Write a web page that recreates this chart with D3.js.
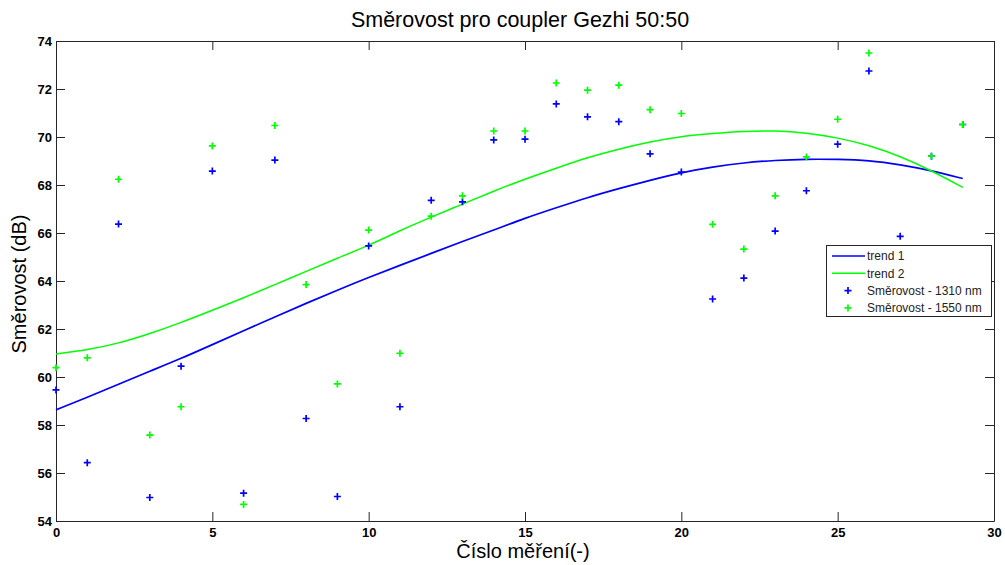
<!DOCTYPE html>
<meta charset="utf-8">
<script src="https://d3js.org/d3.v7.min.js"></script>
<style>
  body { margin: 0; background: #fff; }
  text { font-family: "Liberation Sans", Arial, sans-serif; }
</style>
<div id="chart"></div>
<script>

// measurement number (x)
const mereni = [0,1,2,3,4,5,6,7,8,9,10,11,12,13,14,15,16,17,18,19,20,21,22,23,24,25,26,27,28,29];

// Směrovost - 1310 nm
const smer1310 = [59.46,56.43,66.37,54.98,60.45,68.58,55.16,69.04,58.27,55.02,
                  65.46,58.76,67.36,67.30,69.88,69.91,71.38,70.84,70.64,69.30,
                  68.54,63.25,64.12,66.08,67.76,69.70,72.75,65.86,69.20,70.52];

// Směrovost - 1550 nm (no point visible for 27)
const smer1550 = [60.39,60.80,68.24,57.58,58.76,69.63,54.69,70.48,63.85,59.71,
                  66.12,60.99,66.70,67.55,70.25,70.25,72.25,71.95,72.16,71.14,
                  70.98,66.36,65.33,67.55,69.17,70.74,73.50,null,69.20,70.52];

const trend1 = [58.63,59.15,59.70,60.24,60.77,61.35,61.93,62.50,63.07,63.62,
                64.15,64.65,65.15,65.65,66.12,66.62,67.05,67.48,67.85,68.20,
                68.52,68.75,68.93,69.03,69.08,69.07,69.03,68.85,68.60,68.27];
const trend2 = [60.96,61.13,61.40,61.80,62.27,62.78,63.30,63.85,64.40,64.95,
                65.48,66.10,66.67,67.20,67.75,68.25,68.70,69.15,69.50,69.80,
                70.03,70.15,70.24,70.27,70.18,69.97,69.66,69.20,68.60,67.90];

const xTicks = [0,5,10,15,20,25,30];
const yTicks = [54,56,58,60,62,64,66,68,70,72,74];

const legendItems = [
  {name: "trend 1", type: "line", color: "#0000ff"},
  {name: "trend 2", type: "line", color: "#00ff00"},
  {name: "Směrovost - 1310 nm", type: "mark", color: "#0000ff"},
  {name: "Směrovost - 1550 nm", type: "mark", color: "#00ff00"}
];

const W = 1005, H = 565;
const plotL = 56, plotR = 994, plotT = 41, plotB = 521;

const svg = d3.select("#chart").append("svg")
  .attr("width", W).attr("height", H);

const x = d3.scaleLinear().domain([0, 30]).range([plotL, plotR]);
const y = d3.scaleLinear().domain([54, 74]).range([plotB, plotT]);

// plot background
svg.append("rect")
  .attr("x", plotL).attr("y", plotT)
  .attr("width", plotR - plotL).attr("height", plotB - plotT)
  .attr("fill", "#fff");

// axes, ticks pointing inward on all sides
const tickLen = 9;
const axColor = "#262626";

function styleAxis(g) {
  g.selectAll(".domain").attr("stroke", axColor);
  g.selectAll(".tick line").attr("stroke", axColor);
  g.selectAll(".tick text")
    .attr("fill", "#000")
    .style("font-size", "13px")
    .style("font-weight", "bold");
}

svg.append("g")
  .attr("transform", `translate(0,${plotB})`)
  .call(d3.axisBottom(x).tickValues(xTicks).tickSizeInner(-tickLen).tickSizeOuter(0).tickPadding(7))
  .call(styleAxis);

svg.append("g")
  .attr("transform", `translate(0,${plotT})`)
  .call(d3.axisTop(x).tickValues(xTicks).tickSizeInner(-tickLen).tickSizeOuter(0).tickFormat(""))
  .call(styleAxis);

svg.append("g")
  .attr("transform", `translate(${plotL},0)`)
  .call(d3.axisLeft(y).tickValues(yTicks).tickSizeInner(-tickLen).tickSizeOuter(0).tickPadding(4))
  .call(styleAxis);

svg.append("g")
  .attr("transform", `translate(${plotR},0)`)
  .call(d3.axisRight(y).tickValues(yTicks).tickSizeInner(-tickLen).tickSizeOuter(0).tickFormat(""))
  .call(styleAxis);

// trend lines (smooth fit curves)
const line = d3.line()
  .x((d, i) => x(mereni[i]))
  .y(d => y(d))
  .curve(d3.curveBasis);

svg.append("path")
  .datum(trend1)
  .attr("d", line)
  .attr("fill", "none")
  .attr("stroke", "#0000ff")
  .attr("stroke-width", 1.7);

svg.append("path")
  .datum(trend2)
  .attr("d", line)
  .attr("fill", "none")
  .attr("stroke", "#00ff00")
  .attr("stroke-width", 1.5);

// + markers
const plus = "M-3.5,0H3.5M0,-3.5V3.5";

function drawMarks(values, color) {
  const pts = mereni.map((m, i) => ({m: m, v: values[i]})).filter(d => d.v != null);
  svg.append("g")
    .selectAll("path")
    .data(pts)
    .join("path")
      .attr("transform", d => `translate(${x(d.m)},${y(d.v)})`)
      .attr("d", plus)
      .attr("stroke", color)
      .attr("stroke-width", 1.7)
      .attr("fill", "none");
}
drawMarks(smer1310, "#0000ff");
drawMarks(smer1550, "#00ff00");

// title and axis labels
svg.append("text")
  .attr("x", 520).attr("y", 27)
  .attr("text-anchor", "middle")
  .style("font-size", "21.5px")
  .text("Směrovost pro coupler Gezhi 50:50");

svg.append("text")
  .attr("x", 523).attr("y", 558)
  .attr("text-anchor", "middle")
  .style("font-size", "20px")
  .text("Číslo měření(-)");

svg.append("text")
  .attr("transform", "translate(26,284) rotate(-90)")
  .attr("text-anchor", "middle")
  .style("font-size", "20px")
  .text("Směrovost (dB)");

// legend
const lg = svg.append("g").attr("transform", "translate(826,245)");
lg.append("rect")
  .attr("x", 0.5).attr("y", 0.5)
  .attr("width", 165).attr("height", 71)
  .attr("fill", "#fff")
  .attr("stroke", axColor);

const rows = lg.selectAll("g.row")
  .data(legendItems)
  .join("g")
    .attr("class", "row")
    .attr("transform", (d, i) => `translate(0,${11 + i * 17.3})`);

rows.filter(d => d.type === "line")
  .append("line")
    .attr("x1", 6).attr("x2", 39)
    .attr("y1", 0).attr("y2", 0)
    .attr("stroke", d => d.color)
    .attr("stroke-width", 1.6);

rows.filter(d => d.type === "mark")
  .append("path")
    .attr("transform", "translate(22,0)")
    .attr("d", plus)
    .attr("stroke", d => d.color)
    .attr("stroke-width", 1.7);

rows.append("text")
  .attr("x", 41)
  .attr("y", 0)
  .attr("dy", "0.35em")
  .style("font-size", "12px")
  .attr("fill", "#222")
  .text(d => d.name);

</script>
